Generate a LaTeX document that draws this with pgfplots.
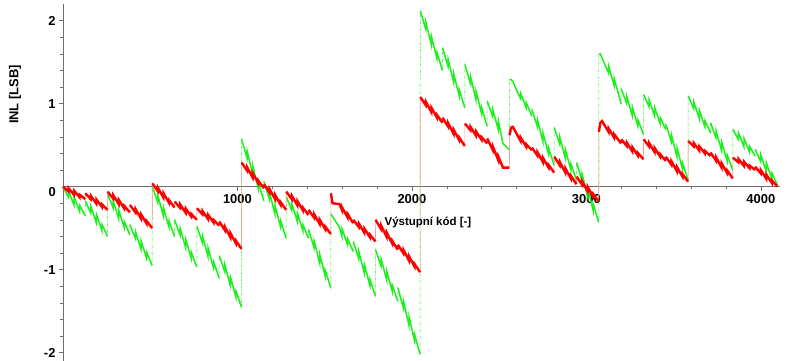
\documentclass[border=0pt]{standalone}
\usepackage{fontspec}
\setmainfont{Liberation Sans}
\usepackage{pgfplots}
\usepackage{pgfplotstable}
\pgfplotsset{compat=1.18}
\definecolor{mygreen}{RGB}{30,240,30}
\definecolor{axgray}{RGB}{110,110,110}
\pgfplotstableread{
x r g
0 0.00 0.00
31 -0.058 -0.128
32 -0.018 -0.048
63 -0.100 -0.225
64 -0.050 -0.125
95 -0.128 -0.298
96 -0.098 -0.228
127 -0.150 -0.350
127.5 nan nan
128 -0.08 -0.17
159 -0.15 -0.318
160 -0.11 -0.238
191 -0.205 -0.435
192 -0.155 -0.335
223 -0.245 -0.528
224 -0.215 -0.458
255 -0.28 -0.60
255.5 nan nan
256 -0.06 -0.09
287 -0.143 -0.253
288 -0.103 -0.173
319 -0.21 -0.385
320 -0.16 -0.285
351 -0.263 -0.493
352 -0.233 -0.423
383 -0.31 -0.58
383.5 nan nan
384 -0.22 -0.46
415 -0.31 -0.623
416 -0.27 -0.543
447 -0.385 -0.755
448 -0.335 -0.655
479 -0.445 -0.863
480 -0.415 -0.793
511 -0.50 -0.95
511.5 nan nan
512 0.04 0.00
543 -0.053 -0.19
544 -0.013 -0.11
575 -0.13 -0.35
576 -0.08 -0.25
607 -0.193 -0.485
608 -0.163 -0.415
639 -0.25 -0.60
639.5 nan nan
640 -0.18 -0.40
671 -0.255 -0.583
672 -0.215 -0.503
703 -0.315 -0.735
704 -0.265 -0.635
735 -0.36 -0.863
736 -0.33 -0.793
767 -0.40 -0.97
767.5 nan nan
768 -0.26 -0.48
799 -0.333 -0.675
800 -0.293 -0.595
831 -0.39 -0.84
832 -0.34 -0.74
863 -0.433 -0.98
864 -0.403 -0.91
895 -0.47 -1.10
895.5 nan nan
896 -0.42 -0.83
927 -0.523 -1.025
928 -0.483 -0.945
959 -0.61 -1.19
960 -0.56 -1.09
991 -0.683 -1.33
992 -0.653 -1.26
1023 -0.75 -1.45
1023.5 nan nan
1024 0.29 0.57
1055 0.193 0.345
1056 0.233 0.425
1087 0.11 0.15
1088 0.16 0.25
1119 0.043 -0.02
1120 0.073 0.05
1151 -0.02 -0.17
1151.5 nan nan
1152 0.03 0.06
1183 -0.068 -0.15
1184 -0.028 -0.07
1215 -0.15 -0.33
1216 -0.10 -0.23
1247 -0.218 -0.485
1248 -0.188 -0.415
1279 -0.28 -0.62
1279.5 nan nan
1280 -0.06 -0.12
1311 -0.15 -0.285
1312 -0.11 -0.205
1343 -0.225 -0.42
1344 -0.175 -0.32
1375 -0.285 -0.53
1376 -0.255 -0.46
1407 -0.34 -0.62
1407.5 nan nan
1408 -0.28 -0.52
1439 -0.373 -0.735
1440 -0.333 -0.655
1471 -0.45 -0.92
1472 -0.40 -0.82
1503 -0.513 -1.08
1504 -0.483 -1.01
1535 -0.57 -1.22
1535.5 nan nan
1536 -0.08 -0.33
1545 -0.20 -0.36
1585 -0.21 -0.49
1599 -0.28 -0.60
1600 -0.25 -0.51
1631 -0.37 -0.70
1632 -0.33 -0.63
1663 -0.44 -0.78
1663.5 nan nan
1664 -0.40 -0.66
1695 -0.485 -0.865
1696 -0.445 -0.785
1727 -0.555 -1.04
1728 -0.505 -0.94
1759 -0.61 -1.19
1760 -0.58 -1.12
1791 -0.66 -1.32
1791.5 nan nan
1792 -0.40 -0.76
1823 -0.51 -0.955
1824 -0.47 -0.875
1855 -0.605 -1.12
1856 -0.555 -1.02
1887 -0.685 -1.26
1888 -0.655 -1.19
1919 -0.76 -1.38
1919.5 nan nan
1920 -0.70 -1.22
1951 -0.803 -1.46
1952 -0.763 -1.38
1983 -0.89 -1.67
1984 -0.84 -1.57
2015 -0.963 -1.855
2016 -0.933 -1.785
2047 -1.03 -2.02
2047.5 nan nan
2048 1.08 2.12
2079 0.983 1.90
2080 1.023 1.98
2111 0.90 1.71
2112 0.95 1.81
2143 0.833 1.545
2144 0.863 1.615
2175 0.77 1.40
2175.5 nan nan
2176 0.83 1.67
2207 0.725 1.45
2208 0.765 1.53
2239 0.635 1.26
2240 0.685 1.36
2271 0.56 1.095
2272 0.59 1.165
2303 0.49 0.95
2303.5 nan nan
2304 0.76 1.47
2335 0.68 1.245
2336 0.72 1.325
2367 0.615 1.05
2368 0.665 1.15
2399 0.565 0.88
2400 0.595 0.95
2431 0.52 0.73
2431.5 nan nan
2432 0.58 1.03
2463 0.443 0.846
2464 0.483 0.926
2495 0.32 0.687
2496 0.36 0.787
2514 0.27 0.60
2522 0.23 0.52
2559 0.23 0.44
2559.5 nan nan
2560 0.62 1.29
2568 0.71 1.29
2578 0.72 1.27
2592 0.67 1.20
2610 0.60 1.12
2623 0.55 1.06
2624 0.59 1.12
2655 0.48 0.95
2656 0.51 1.01
2687 0.44 0.85
2687.5 nan nan
2688 0.47 0.93
2719 0.375 0.723
2720 0.415 0.803
2751 0.295 0.545
2752 0.345 0.645
2783 0.23 0.393
2784 0.26 0.463
2815 0.17 0.26
2815.5 nan nan
2816 0.36 0.71
2847 0.258 0.513
2848 0.298 0.593
2879 0.17 0.345
2880 0.22 0.445
2911 0.098 0.203
2912 0.128 0.273
2943 0.03 0.08
2943.5 nan nan
2944 0.12 0.29
2975 0.025 0.07
2976 0.065 0.15
3007 -0.055 -0.12
3008 -0.005 -0.02
3039 -0.12 -0.285
3040 -0.09 -0.215
3071 -0.18 -0.43
3071.5 nan nan
3072 0.66 1.59
3080 0.77 1.60
3090 0.79 1.55
3110 0.72 1.45
3127 0.66 1.37
3128 0.70 1.45
3159 0.59 1.22
3160 0.63 1.30
3199 0.52 1.00
3199.5 nan nan
3200 0.57 1.18
3231 0.49 1.003
3232 0.53 1.083
3263 0.425 0.855
3264 0.475 0.955
3295 0.375 0.733
3296 0.405 0.803
3327 0.33 0.63
3327.5 nan nan
3328 0.57 1.11
3359 0.485 0.965
3360 0.525 1.045
3391 0.415 0.85
3392 0.465 0.95
3423 0.36 0.76
3424 0.39 0.83
3455 0.31 0.69
3455.5 nan nan
3456 0.36 0.75
3487 0.265 0.543
3488 0.305 0.623
3519 0.185 0.365
3520 0.235 0.465
3551 0.12 0.213
3552 0.15 0.283
3583 0.06 0.08
3583.5 nan nan
3584 0.55 1.09
3615 0.485 0.94
3616 0.525 1.02
3647 0.435 0.82
3648 0.485 0.92
3679 0.40 0.725
3680 0.43 0.795
3711 0.37 0.65
3711.5 nan nan
3712 0.41 0.77
3743 0.313 0.588
3744 0.353 0.668
3775 0.23 0.435
3776 0.28 0.535
3807 0.163 0.308
3808 0.193 0.378
3839 0.10 0.20
3839.5 nan nan
3840 0.35 0.69
3871 0.293 0.57
3872 0.333 0.65
3903 0.25 0.48
3904 0.30 0.58
3935 0.223 0.415
3936 0.253 0.485
3967 0.20 0.37
3967.5 nan nan
3968 0.24 0.45
3999 0.16 0.303
4000 0.20 0.383
4031 0.095 0.185
4032 0.145 0.285
4063 0.045 0.093
4064 0.075 0.163
4095 0.00 0.02
}\datatable
\begin{document}
\begin{tikzpicture}
\begin{axis}[
  at={(63bp,0bp)}, anchor=south west,
  scale only axis, width=717bp, height=357bp,
  xmin=0, xmax=4110, ymin=-2.1, ymax=2.2,
  axis lines=middle,
  axis line style={-, draw=axgray, line width=0.7bp},
  xtick={1000,2000,3000,4000}, ytick={-2,-1,0,1,2},
  minor x tick num=4, minor y tick num=4,
  tick align=outside,
  major tick length=4bp, minor tick length=2.5bp,
  tick style={draw=axgray, line width=0.6bp},
  ticklabel style={font=\fontsize{13}{15}\selectfont\bfseries, text=black},
  /pgf/number format/assume math mode=true,
  /pgf/number format/set thousands separator={},
  clip=false,
]
\addplot[mygreen, no markers, line width=0.5bp, dash pattern=on 3bp off 1.5bp on 1bp off 1.5bp, unbounded coords=discard] table[x=x,y=g]{\datatable};
\addplot[mygreen, no markers, line width=1.5bp, unbounded coords=jump] table[x=x,y=g]{\datatable};
\addplot[red!40, no markers, line width=0.6bp, unbounded coords=discard] table[x=x,y=r]{\datatable};
\addplot[red, no markers, line width=2.4bp, unbounded coords=jump] table[x=x,y=r]{\datatable};
\node[rotate=90, font=\fontsize{13}{15}\selectfont\bfseries] at (axis cs:-275,1.11) {INL [LSB]};
\node[font=\fontsize{11.5}{13}\selectfont\bfseries] at (axis cs:2092,-0.43) {Výstupní kód [-]};
\node[anchor=east, font=\fontsize{13}{15}\selectfont\bfseries, inner sep=0pt] at (axis cs:-40,-0.07) {0};
\end{axis}
\pgfresetboundingbox
\path[use as bounding box] (0,0) rectangle (786bp,361bp);
\end{tikzpicture}
\end{document}
